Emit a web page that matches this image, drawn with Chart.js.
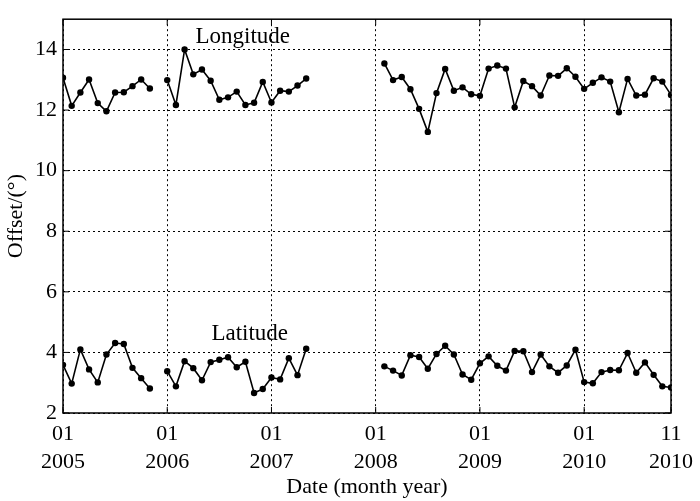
<!DOCTYPE html>
<html>
<head>
<meta charset="utf-8">
<script src="https://cdn.jsdelivr.net/npm/chart.js@4/dist/chart.umd.min.js"></script>
<style>
  body { margin: 0; background: #fff; }
  #wrap { width: 700px; height: 501px; }
</style>
</head>
<body>
<div id="wrap"><canvas id="offsetChart" width="700" height="501"></canvas></div>
<script>
// months counted from Jan 2005 (0) to Nov 2010 (70)
const segmentStarts = [0, 12, 37];

const longitude = [
    [13.07, 12.14, 12.58, 13.01, 12.23, 11.96, 12.58, 12.59, 12.79, 13.01, 12.71],
    [12.99, 12.17, 14.00, 13.18, 13.34, 12.97, 12.34, 12.42, 12.61, 12.17, 12.24, 12.93, 12.25, 12.64, 12.61, 12.81, 13.04],
    [13.54, 12.99, 13.09, 12.69, 12.04, 11.28, 12.56, 13.36, 12.64, 12.75, 12.52, 12.47, 13.37, 13.47, 13.37, 12.09, 12.96,
     12.79, 12.48, 13.14, 13.13, 13.38, 13.10, 12.70, 12.90, 13.08, 12.94, 11.93, 13.03, 12.48, 12.51, 13.05, 12.94, 12.50]
];

const latitude = [
    [3.59, 2.97, 4.10, 3.44, 3.01, 3.93, 4.31, 4.28, 3.49, 3.15, 2.81],
    [3.38, 2.88, 3.71, 3.48, 3.08, 3.68, 3.76, 3.84, 3.51, 3.69, 2.66, 2.79, 3.17, 3.11, 3.81, 3.25, 4.12],
    [3.54, 3.40, 3.24, 3.91, 3.85, 3.46, 3.95, 4.22, 3.93, 3.27, 3.10, 3.64, 3.87, 3.56, 3.40, 4.05, 4.04,
     3.35, 3.93, 3.54, 3.33, 3.57, 4.09, 3.02, 2.98, 3.35, 3.42, 3.41, 3.98, 3.33, 3.67, 3.26, 2.88, 2.84]
];

const xTicks = [0, 12, 24, 36, 48, 60, 70];
const xTickLabels = [["01", "2005"], ["01", "2006"], ["01", "2007"], ["01", "2008"], ["01", "2009"], ["01", "2010"], ["11", "2010"]];
const yTicks = [2, 4, 6, 8, 10, 12, 14];

const seriesNames = ["Longitude", "Latitude"];
const nameAnchors = [[20.7, 14.4], [21.5, 4.6]];

// flatten segments into x/y points, with a null between segments to break the line
function toPoints(segments) {
    const pts = [];
    segments.forEach(function(seg, i) {
        if (i > 0) pts.push({ x: segmentStarts[i] - 0.5, y: null });
        seg.forEach(function(v, j) {
            pts.push({ x: segmentStarts[i] + j, y: v });
        });
    });
    return pts;
}

const serif = "'Liberation Serif', 'DejaVu Serif', serif";

const frameAndLabels = {
    id: "frameAndLabels",
    afterDraw: function(chart) {
        const ctx = chart.ctx;
        const a = chart.chartArea;
        const xs = chart.scales.x;
        const ys = chart.scales.y;
        ctx.save();
        ctx.strokeStyle = "#000";
        ctx.lineWidth = 1.5;
        ctx.strokeRect(a.left, a.top, a.right - a.left, a.bottom - a.top);
        // small inward ticks
        ctx.lineWidth = 1;
        yTicks.forEach(function(t) {
            const y = ys.getPixelForValue(t);
            ctx.beginPath();
            ctx.moveTo(a.left, y); ctx.lineTo(a.left + 6, y);
            ctx.moveTo(a.right, y); ctx.lineTo(a.right - 6, y);
            ctx.stroke();
        });
        xTicks.forEach(function(t) {
            const x = xs.getPixelForValue(t);
            ctx.beginPath();
            ctx.moveTo(x, a.bottom); ctx.lineTo(x, a.bottom - 6);
            ctx.moveTo(x, a.top); ctx.lineTo(x, a.top + 6);
            ctx.stroke();
        });
        ctx.fillStyle = "#000";
        ctx.font = "23px " + serif;
        ctx.textAlign = "center";
        ctx.textBaseline = "middle";
        seriesNames.forEach(function(name, i) {
            ctx.fillText(name, xs.getPixelForValue(nameAnchors[i][0]), ys.getPixelForValue(nameAnchors[i][1]));
        });
        ctx.restore();
    }
};

function lineSet(label, segments) {
    return {
        label: label,
        data: toPoints(segments),
        borderColor: "#000",
        backgroundColor: "#000",
        borderWidth: 1.6,
        pointRadius: 3.2,
        pointBackgroundColor: "#000",
        pointBorderWidth: 0,
        spanGaps: false,
        tension: 0
    };
}

const ctx = document.getElementById("offsetChart").getContext("2d");
new Chart(ctx, {
    type: "line",
    data: {
        datasets: [lineSet(seriesNames[0], longitude), lineSet(seriesNames[1], latitude)]
    },
    options: {
        responsive: false,
        animation: false,
        layout: { padding: { top: 15, right: 26, left: 0, bottom: 0 } },
        plugins: { legend: { display: false }, tooltip: { enabled: false } },
        scales: {
            x: {
                type: "linear",
                min: 0,
                max: 70,
                afterBuildTicks: function(scale) {
                    scale.ticks = xTicks.map(function(v) { return { value: v }; });
                },
                afterFit: function(scale) { scale.height = 88; },
                ticks: {
                    color: "#000",
                    font: { family: serif, size: 22, lineHeight: 1.27 },
                    padding: 7,
                    maxRotation: 0,
                    autoSkip: false,
                    callback: function(value) { return xTickLabels[xTicks.indexOf(value)]; }
                },
                grid: {
                    color: "#000",
                    lineWidth: 1,
                    tickLength: 0,
                    drawTicks: false
                },
                border: { display: false, dash: [2, 3] },
                title: {
                    display: true,
                    text: "Date (month year)",
                    color: "#000",
                    font: { family: serif, size: 22 },
                    padding: { top: 0, bottom: 1 }
                }
            },
            y: {
                min: 2,
                max: 15,
                afterBuildTicks: function(scale) {
                    scale.ticks = yTicks.map(function(v) { return { value: v }; });
                },
                afterFit: function(scale) { scale.width = 63; },
                ticks: {
                    color: "#000",
                    font: { family: serif, size: 22 },
                    padding: 6
                },
                grid: {
                    color: "#000",
                    lineWidth: 1,
                    drawTicks: false
                },
                border: { display: false, dash: [2, 3] },
                title: {
                    display: true,
                    text: "Offset/(°)",
                    color: "#000",
                    font: { family: serif, size: 22 },
                    padding: { top: 3, bottom: 0 }
                }
            }
        }
    },
    plugins: [frameAndLabels]
});
</script>
</body>
</html>
